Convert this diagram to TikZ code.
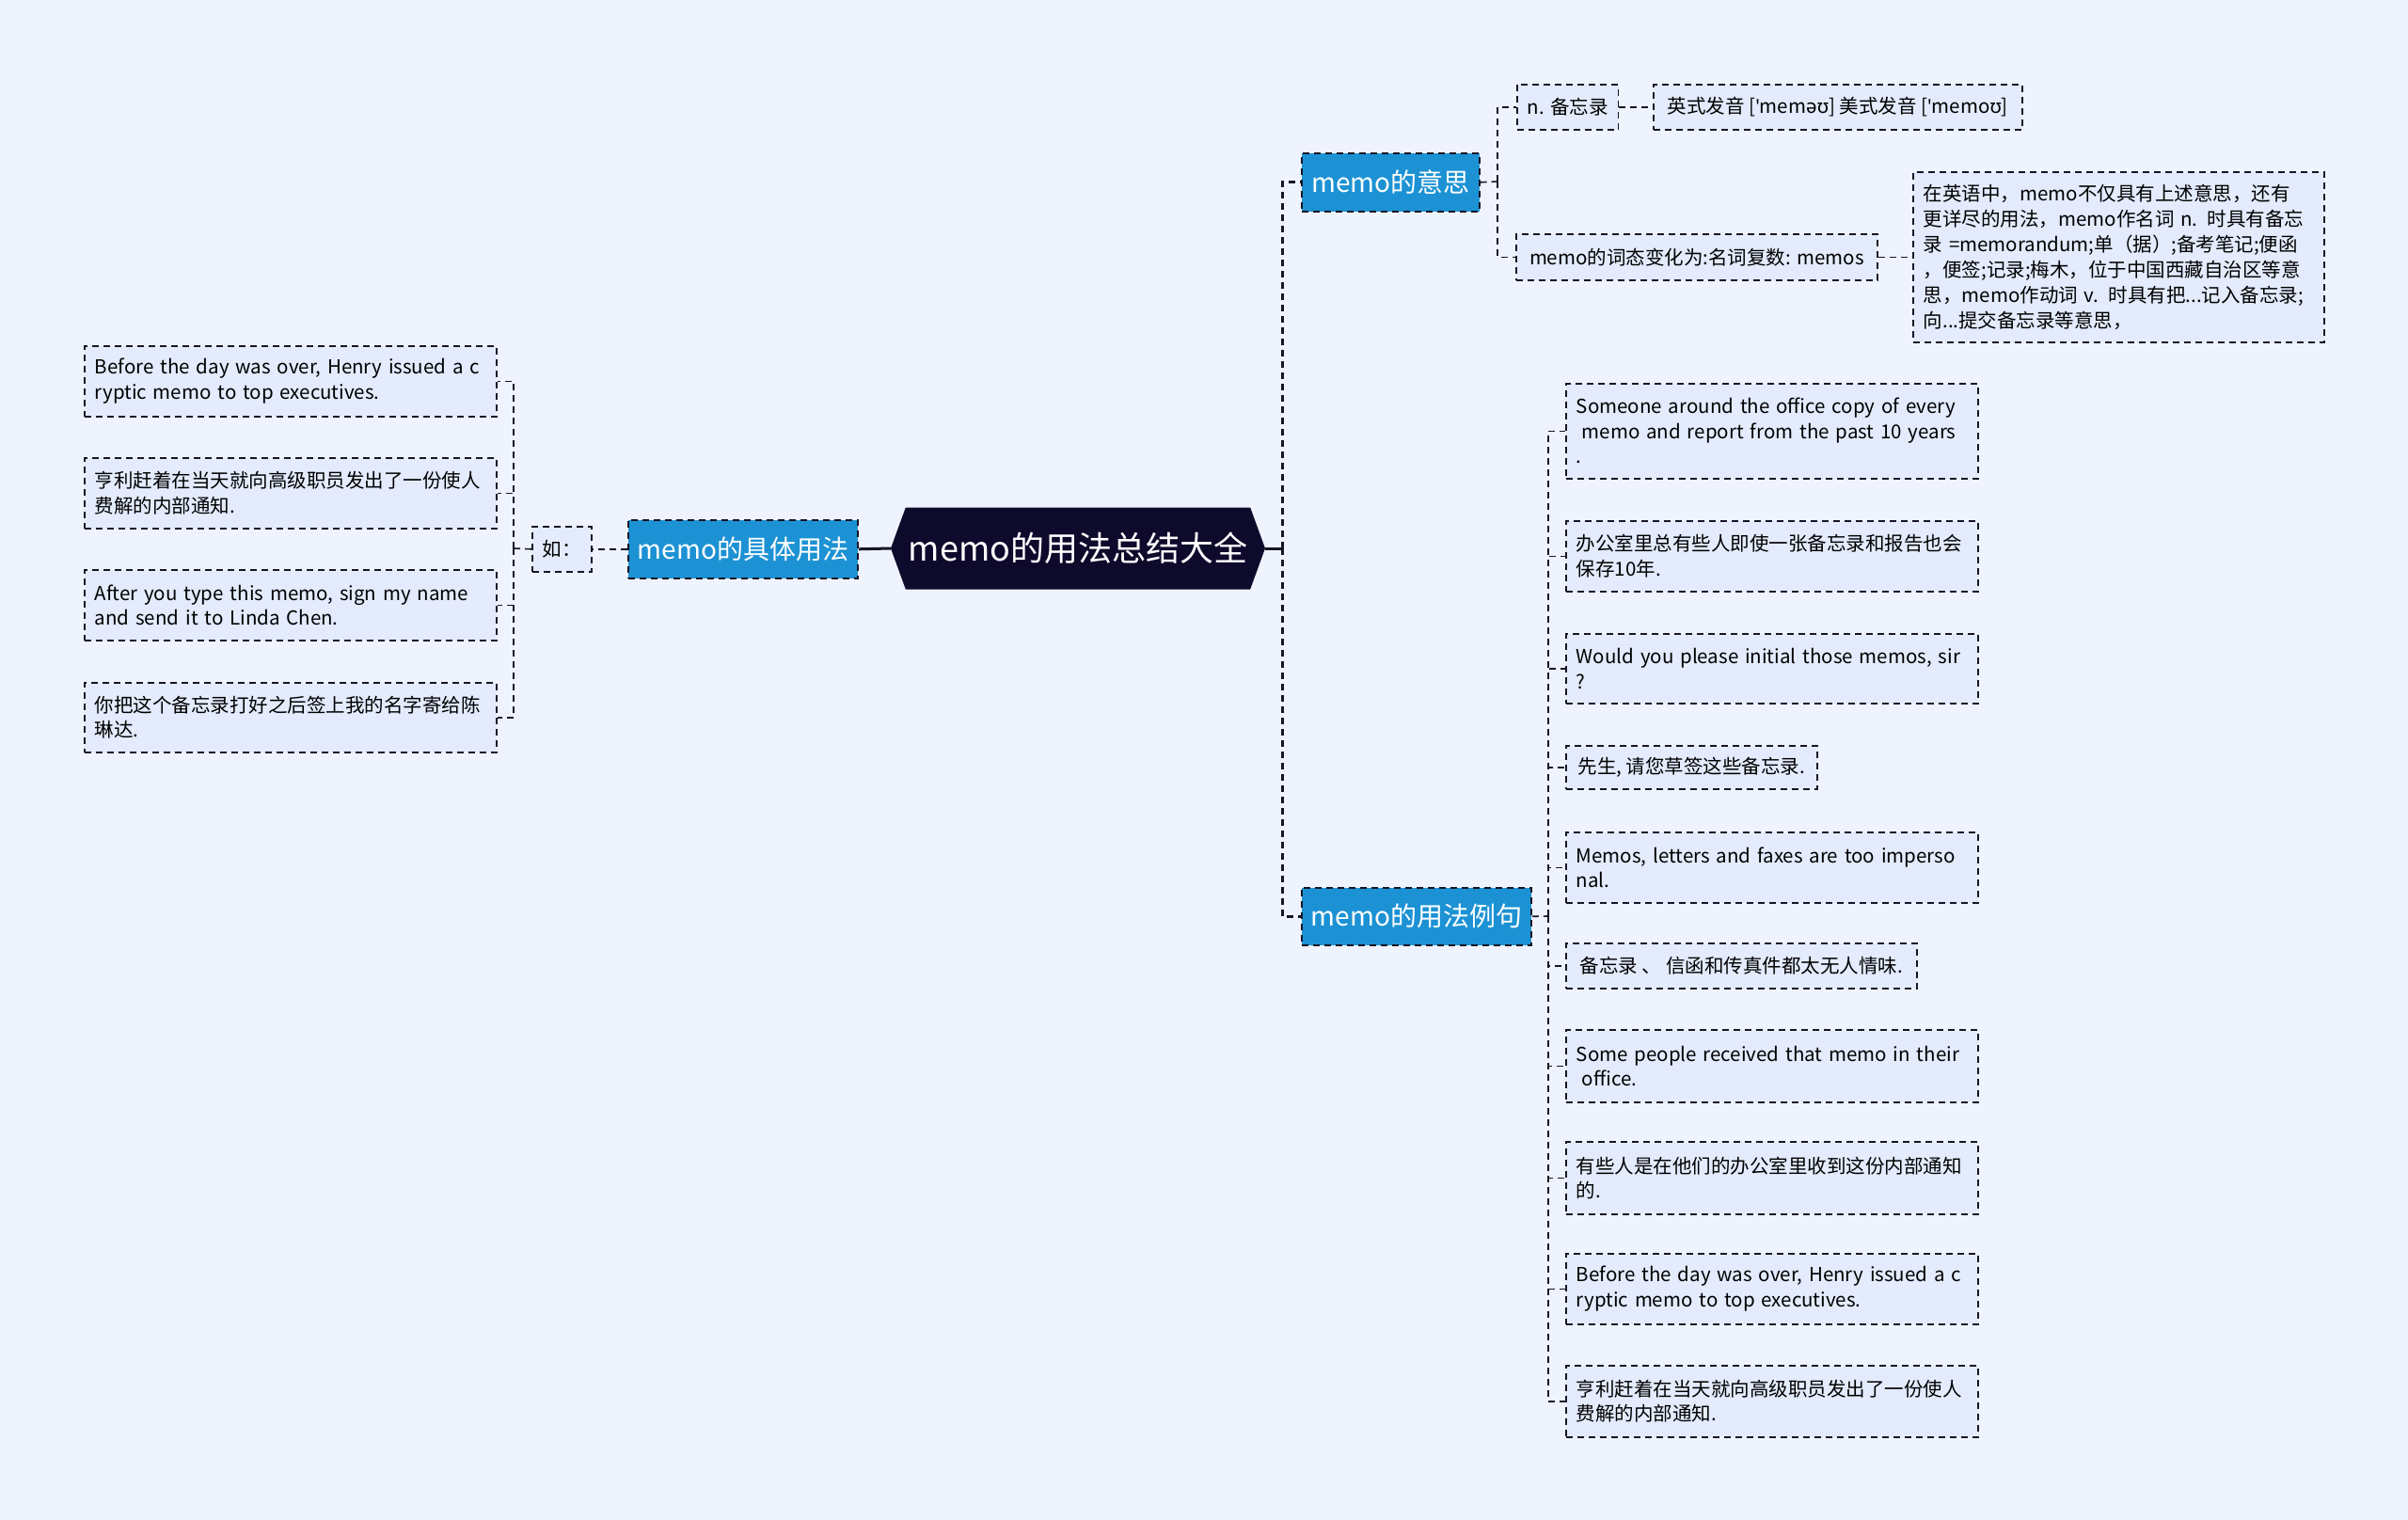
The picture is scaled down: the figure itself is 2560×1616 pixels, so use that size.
\documentclass[tikz,border=0pt]{standalone}
\usepackage{fontspec}
\setmainfont{Noto Sans CJK SC}
\newfontfamily\ipafont{Noto Sans}
\definecolor{bgfill}{RGB}{238, 243, 253}
\definecolor{leaffill}{RGB}{227, 235, 252}
\definecolor{topicfill}{RGB}{28, 146, 212}
\definecolor{rootfill}{RGB}{14, 10, 44}
\definecolor{edge}{RGB}{22, 22, 36}
\usetikzlibrary{shapes, shapes.symbols, arrows.meta, positioning, calc}

\tikzset{
    rootnode/.style={signal, signal to=west and east, signal pointer angle=140,
        fill=rootfill, text=white, inner sep=0pt,
        minimum width=398pt, minimum height=87pt,
        font=\fontsize{36}{40}\selectfont},
    topicnode/.style={draw=edge, line width=1.6pt, dash pattern=on 7pt off 5pt,
        fill=topicfill, text=white, anchor=north west, inner xsep=10pt,
        font=\fontsize{28}{32}\selectfont},
    leafnode/.style={draw=edge, line width=1.6pt, dash pattern=on 7pt off 5pt,
        fill=leaffill, align=left, anchor=north west,
        inner xsep=11pt, inner ysep=0pt,
        font=\fontsize{20.5}{26.5}\selectfont},
    link/.style={draw=edge, line width=1.6pt, dash pattern=on 7pt off 5pt},
    trunk/.style={draw=edge, line width=3pt, dash pattern=on 7pt off 5pt},
    stem/.style={draw=edge, line width=3pt}
}

\begin{document}
\begin{tikzpicture}[x=1pt, y=-1pt]
    \fill[bgfill] (0,0) rectangle (2560,1616);
    \useasboundingbox (0,0) rectangle (2560,1616);

    % centre
    \node[rootnode] (root) at (1146,583) {memo的用法总结大全};

    % left branch
    \node[topicnode, minimum width=244pt, minimum height=62pt] (usage) at (667,552) {memo的具体用法};
    \node[leafnode, minimum width=63pt, minimum height=48pt] (ru) at (565,559) {如：};
    \node[leafnode, text width=416pt, minimum height=75pt] (la1) at (89,367)
        {Before the day was over, Henry issued a c\\ryptic memo to top executives.};
    \node[leafnode, text width=416pt, minimum height=75pt] (la2) at (89,486)
        {亨利赶着在当天就向高级职员发出了一份使人\\费解的内部通知.};
    \node[leafnode, text width=416pt, minimum height=75pt] (la3) at (89,605)
        {After you type this memo, sign my name\\and send it to Linda Chen.};
    \node[leafnode, text width=416pt, minimum height=74pt] (la4) at (89,725)
        {你把这个备忘录打好之后签上我的名字寄给陈\\琳达.};
    \coordinate (jLeft) at (546,583);

    % meaning
    \node[topicnode, minimum width=189pt, minimum height=62pt] (mean) at (1383,162) {memo的意思};
    \node[leafnode, minimum width=107pt, minimum height=48pt] (m1) at (1612,89) {n. 备忘录};
    \node[leafnode, minimum width=392pt, minimum height=48pt] (m1a) at (1757,89)
        {英式发音 [{\ipafont '}mem{\ipafont əʊ}] 美式发音 [{\ipafont '}memo{\ipafont ʊ}]};
    \node[leafnode, minimum width=384pt, minimum height=49pt] (m2) at (1611,248)
        {memo的词态变化为:名词复数: memos};
    \node[leafnode, text width=415pt, minimum height=181pt,
          font=\fontsize{20.5}{27}\selectfont] (m2a) at (2033,182)
        {在英语中，memo不仅具有上述意思，还有\\更详尽的用法，memo作名词 n. 时具有备忘\\录 =memorandum;单（据）;备考笔记;便函\\，便签;记录;梅木，位于中国西藏自治区等意\\思，memo作动词 v. 时具有把...记入备忘录;\\向...提交备忘录等意思，};
    \coordinate (jMean) at (1592,193);

    % examples
    \node[topicnode, minimum width=243pt, minimum height=61pt] (ex) at (1383,943) {memo的用法例句};
    \node[leafnode, text width=416pt, minimum height=101pt] (r1) at (1664,407)
        {Someone around the office copy of every\\\hspace{6pt}memo and report from the past 10 years\\.};
    \node[leafnode, text width=416pt, minimum height=75pt] (r2) at (1664,553)
        {办公室里总有些人即使一张备忘录和报告也会\\保存10年.};
    \node[leafnode, text width=416pt, minimum height=74pt] (r3) at (1664,673)
        {Would you please initial those memos, sir\\?};
    \node[leafnode, minimum width=267pt, minimum height=46pt] (r4) at (1664,792)
        {先生, 请您草签这些备忘录.};
    \node[leafnode, text width=416pt, minimum height=75pt] (r5) at (1664,884)
        {Memos, letters and faxes are too imperso\\nal.};
    \node[leafnode, minimum width=373pt, minimum height=48pt] (r6) at (1664,1002)
        {备忘录 、 信函和传真件都太无人情味.};
    \node[leafnode, text width=416pt, minimum height=77pt] (r7) at (1664,1094)
        {Some people received that memo in their\\\hspace{6pt}office.};
    \node[leafnode, text width=416pt, minimum height=77pt] (r8) at (1664,1213)
        {有些人是在他们的办公室里收到这份内部通知\\的.};
    \node[leafnode, text width=416pt, minimum height=75pt] (r9) at (1664,1332)
        {Before the day was over, Henry issued a c\\ryptic memo to top executives.};
    \node[leafnode, text width=416pt, minimum height=76pt] (r10) at (1664,1451)
        {亨利赶着在当天就向高级职员发出了一份使人\\费解的内部通知.};
    \coordinate (jEx) at (1646,974);
    \coordinate (jRoot) at (1363,583);

    % connectors
    \draw[stem] (root.east) -- (jRoot);
    \draw[trunk] (jRoot) |- (mean.west);
    \draw[trunk] (jRoot) |- (ex.west);
    \draw[stem] (root.west) -- (usage.east);
    \draw[link] (usage.west) -- (ru.east);
    \draw[link] (ru.west) -- (jLeft);
    \foreach \i in {1,...,4}
        \draw[link] (jLeft) |- (la\i.east);
    \draw[link] (mean.east) -- (jMean);
    \draw[link] (jMean) |- (m1.west);
    \draw[link] (jMean) |- (m2.west);
    \draw[link] (m1.east) -- (m1a.west);
    \draw[link] (m2.east) -- (m2a.west);
    \draw[link] (ex.east) -- (jEx);
    \foreach \i in {1,...,10}
        \draw[link] (jEx) |- (r\i.west);
\end{tikzpicture}
\end{document}
